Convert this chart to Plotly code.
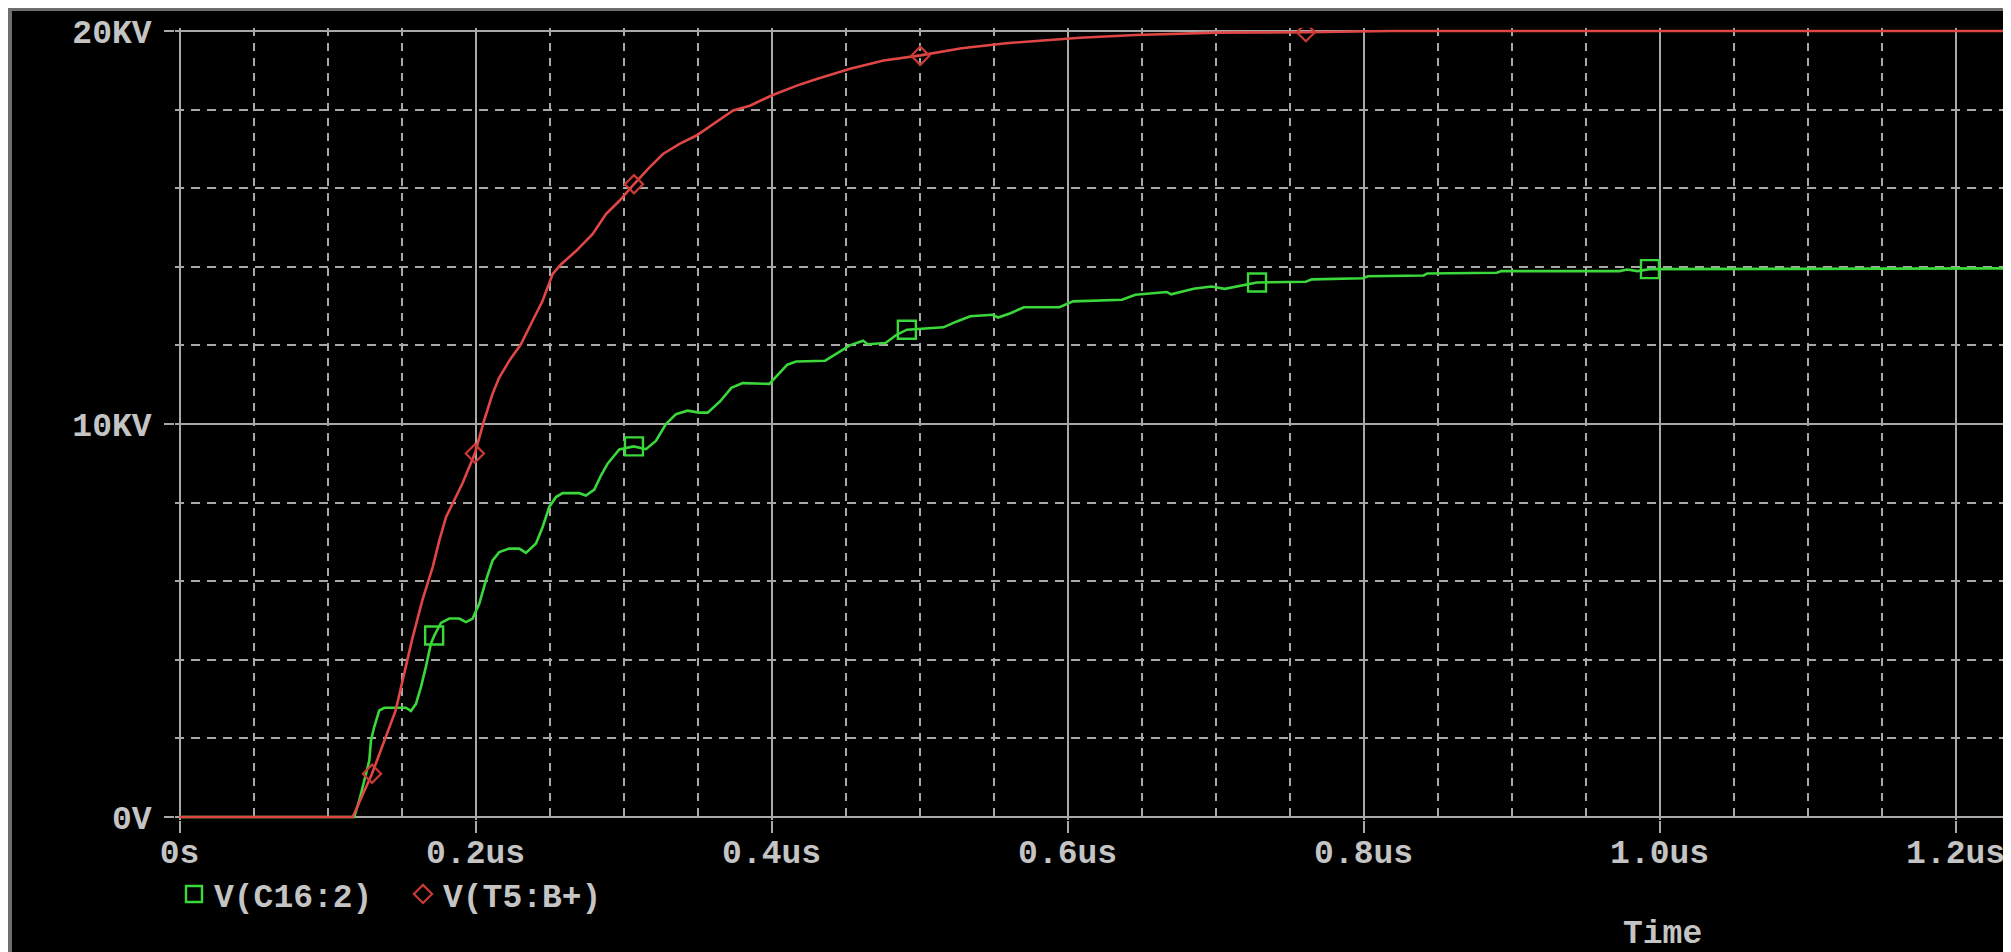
import plotly.graph_objects as go

# The page body keeps the browser's default 8px margin, so the figure is drawn
# 8px in from the top-left corner of the 2011x952 window.
PAGE_W, PAGE_H = 2011, 952
OFF = 8
W, H = PAGE_W - OFF, PAGE_H - OFF

# ---------------- data (time in us, voltage in kV) ----------------
red_t = [0, 0.117, 0.130, 0.146, 0.157, 0.164, 0.171, 0.1755, 0.180, 0.1845,
         0.191, 0.1995, 0.2056, 0.2113, 0.2158, 0.2226, 0.2305, 0.2384, 0.2452, 0.252,
         0.2576, 0.2678, 0.279, 0.2881, 0.2972, 0.3069, 0.3175, 0.3266, 0.3378, 0.3492,
         0.3605, 0.374, 0.3853, 0.400, 0.417, 0.4305, 0.4531, 0.4757, 0.5006, 0.5284,
         0.5585, 0.5827, 0.6083, 0.646, 0.7003, 0.761, 0.818, 1.24]
red_v = [0, 0, 1.10, 2.71, 4.5, 5.51, 6.36, 7.04, 7.63, 7.97,
         8.48, 9.25, 10.07, 10.75, 11.17, 11.6, 12.02, 12.62, 13.13, 13.81,
         14.06, 14.4, 14.83, 15.34, 15.68, 16.1, 16.53, 16.87, 17.13, 17.34,
         17.64, 17.98, 18.1, 18.36, 18.61, 18.78, 19.04, 19.25, 19.38, 19.56,
         19.69, 19.75, 19.83, 19.9, 19.96, 19.97, 20.0, 20.0]

green_t = [0, 0.118, 0.1214, 0.1248, 0.1282, 0.1293, 0.1315, 0.1349, 0.1383, 0.1529,
           0.1563, 0.1597, 0.1631, 0.1664, 0.1698, 0.1721, 0.1766, 0.1822, 0.189, 0.1935,
           0.198, 0.2025, 0.207, 0.2115, 0.216, 0.2227, 0.2295, 0.234, 0.2408, 0.2453,
           0.2498, 0.2543, 0.2588, 0.27, 0.2745, 0.2802, 0.2847, 0.2892, 0.2971, 0.3068,
           0.3151, 0.3218, 0.3286, 0.3354, 0.3432, 0.3511, 0.3568, 0.3653, 0.3728, 0.3804,
           0.3985, 0.4106, 0.4166, 0.4362, 0.4468, 0.4528, 0.4618, 0.465, 0.4769, 0.4845,
           0.4914, 0.5161, 0.5252, 0.5342, 0.5493, 0.553, 0.5614, 0.5704, 0.5946, 0.6036,
           0.6368, 0.6458, 0.667, 0.670, 0.6851, 0.6971, 0.7062, 0.7183, 0.7279, 0.761,
           0.765, 0.7995, 0.803, 0.8406, 0.843, 0.890, 0.893, 0.973, 0.978, 0.985,
           0.9935, 1.24]
green_v = [0, 0, 0.42, 0.93, 1.44, 1.95, 2.29, 2.71, 2.78, 2.78,
           2.7, 2.88, 3.31, 3.82, 4.41, 4.62, 4.94, 5.05, 5.05, 4.96,
           5.05, 5.43, 6.02, 6.53, 6.74, 6.83, 6.83, 6.72, 6.96, 7.38,
           7.89, 8.14, 8.24, 8.24, 8.18, 8.33, 8.69, 8.99, 9.35, 9.43,
           9.36, 9.57, 10.0, 10.25, 10.34, 10.29, 10.29, 10.58, 10.92, 11.04,
           11.02, 11.51, 11.59, 11.61, 11.85, 12.0, 12.12, 12.03, 12.06, 12.27,
           12.4, 12.46, 12.61, 12.74, 12.78, 12.71, 12.82, 12.97, 12.97, 13.12,
           13.16, 13.29, 13.36, 13.3, 13.44, 13.5, 13.44, 13.53, 13.6, 13.62,
           13.68, 13.71, 13.76, 13.78, 13.83, 13.85, 13.89, 13.89, 13.93, 13.89,
           13.94, 13.96]

green_mark_t = [0.172, 0.307, 0.4914, 0.728, 0.9935]
green_mark_v = [4.62, 9.43, 12.4, 13.6, 13.94]
red_mark_t = [0.130, 0.1995, 0.307, 0.5005, 0.761]
red_mark_v = [1.10, 9.25, 16.1, 19.37, 19.97]

series_names = ["V(C16:2)", "V(T5:B+)"]
x_tick_vals = [0, 0.2, 0.4, 0.6, 0.8, 1.0, 1.2]
x_tick_text = ["0s", "0.2us", "0.4us", "0.6us", "0.8us", "1.0us", "1.2us"]
y_tick_vals = [0, 10, 20]
y_tick_text = ["0V", "10KV", "20KV"]
x_title = "Time"

assert len(red_t) == len(red_v) and len(green_t) == len(green_v)

# ---------------- geometry (figure pixels) / style ----------------
X0_PX, PX_PER_US = 179.6 - OFF, 1480.0
Y0_PX, PX_PER_KV = 817.0 - OFF, 39.3
x_lo, x_hi = -0.003, (W - X0_PX) / PX_PER_US
y_lo, y_hi = -0.08, 20.08
dom_x0 = (X0_PX + x_lo * PX_PER_US) / W
dom_y0 = (H - (Y0_PX - y_lo * PX_PER_KV)) / H
dom_y1 = (H - (Y0_PX - y_hi * PX_PER_KV)) / H

GREEN = "#3ad83a"
RED_LINE = "#e04646"
RED_MARK = "#c83a36"
GRID = "#a8a8a8"
TEXT = "#c4c4c4"
FONT = dict(family="Liberation Mono", size=33, color=TEXT, weight="bold")


def px_x(p):          # page pixel -> paper fraction
    return (p - OFF) / W


def px_y(p):
    return (H - (p - OFF)) / H


fig = go.Figure()
fig.add_trace(go.Scatter(x=green_t, y=green_v, mode="lines",
                         line=dict(color=GREEN, width=2.6), showlegend=False,
                         hoverinfo="skip"))
fig.add_trace(go.Scatter(x=red_t, y=red_v, mode="lines",
                         line=dict(color=RED_LINE, width=2.6), showlegend=False,
                         hoverinfo="skip"))
fig.add_trace(go.Scatter(x=green_mark_t, y=green_mark_v, mode="markers",
                         name=series_names[0],
                         marker=dict(symbol="square-open", size=18, color=GREEN,
                                     line=dict(color=GREEN, width=2.4))))
fig.add_trace(go.Scatter(x=red_mark_t, y=red_mark_v, mode="markers",
                         name=series_names[1],
                         marker=dict(symbol="diamond-open", size=14, color=RED_MARK,
                                     line=dict(color=RED_MARK, width=2.2))))

fig.update_xaxes(
    range=[x_lo, x_hi], domain=[dom_x0, 1], automargin=False,
    tickmode="array", tickvals=x_tick_vals, ticktext=x_tick_text,
    ticks="outside", ticklen=12, tickwidth=2, tickcolor=GRID,
    tickfont=FONT, ticklabelstandoff=-10,
    showgrid=True, gridcolor=GRID, gridwidth=2,
    zeroline=False, showline=False, fixedrange=True,
    minor=dict(tick0=0, dtick=0.05, showgrid=True, gridcolor=GRID,
               gridwidth=2, griddash="8px,7px", ticks=""),
)
fig.update_yaxes(
    range=[y_lo, y_hi], domain=[dom_y0, dom_y1], automargin=False,
    tickmode="array", tickvals=y_tick_vals, ticktext=y_tick_text,
    ticks="outside", ticklen=10, tickwidth=2, tickcolor=GRID,
    tickfont=FONT, ticklabelstandoff=6,
    showgrid=True, gridcolor=GRID, gridwidth=2,
    zeroline=False, showline=False, fixedrange=True,
    minor=dict(tick0=0, dtick=2, showgrid=True, gridcolor=GRID,
               gridwidth=2, griddash="9px,7px", ticks=""),
)

# dark window edge at top and left (the light strip is the page margin)
shapes = [
    dict(type="rect", xref="paper", yref="paper", x0=0, x1=1, y0=px_y(11), y1=1,
         fillcolor="#6e6e6e", line_width=0, layer="above"),
    dict(type="rect", xref="paper", yref="paper", x0=0, x1=px_x(12), y0=0, y1=1,
         fillcolor="#6e6e6e", line_width=0, layer="above"),
]

fig.update_layout(
    width=W, height=H,
    margin=dict(l=0, r=0, t=0, b=0, pad=0, autoexpand=False),
    paper_bgcolor="#000000", plot_bgcolor="#000000",
    showlegend=True,
    legend=dict(orientation="h", x=px_x(174), xanchor="left",
                y=px_y(894), yanchor="middle", font=FONT,
                bgcolor="rgba(0,0,0,0)", borderwidth=0,
                itemclick=False, itemdoubleclick=False,
                entrywidth=184, entrywidthmode="pixels"),
    annotations=[dict(text=x_title, xref="paper", yref="paper",
                      x=px_x(1662), y=px_y(934), xanchor="center", yanchor="middle",
                      showarrow=False, font=FONT)],
    shapes=shapes,
)

fig.write_html("out.html", config={"displayModeBar": False})
